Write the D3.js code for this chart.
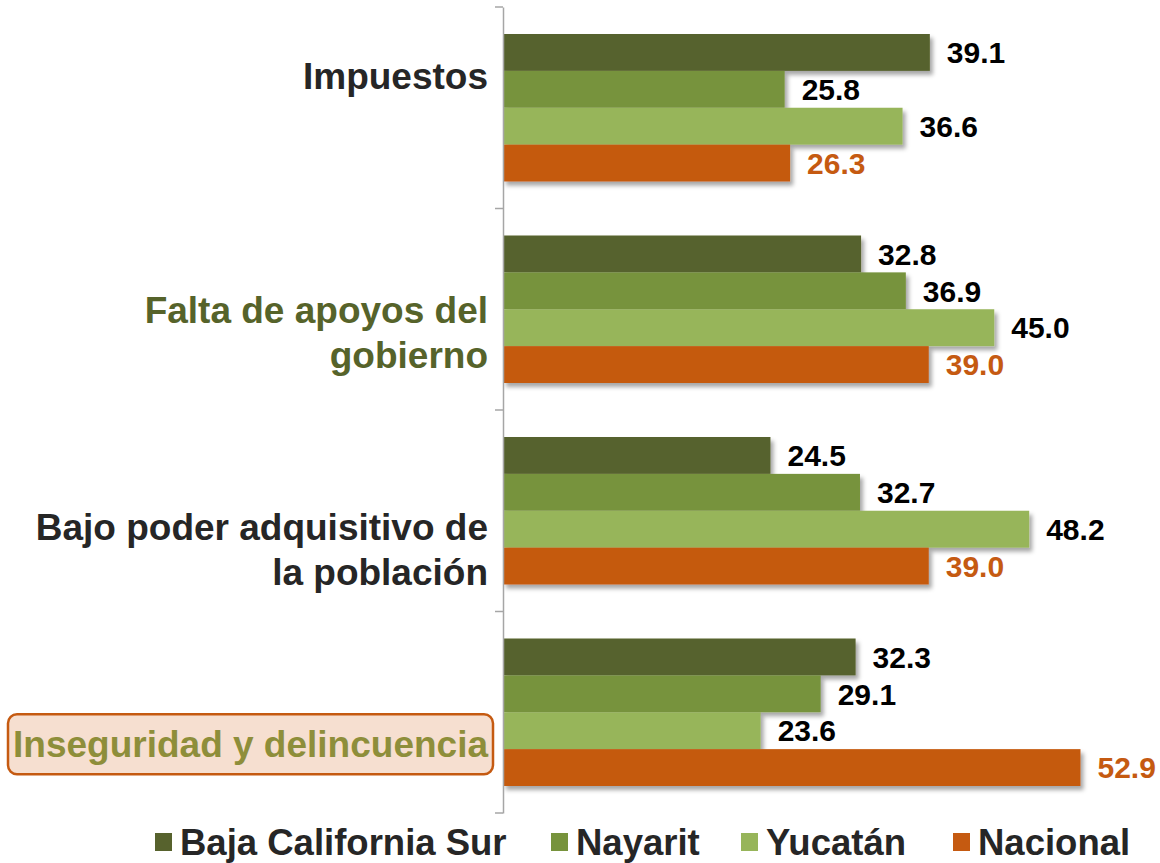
<!DOCTYPE html>
<html>
<head>
<meta charset="utf-8">
<script src="https://cdn.jsdelivr.net/npm/d3@7/dist/d3.min.js"></script>
<style>
  html, body { margin: 0; padding: 0; background: #fff; }
  svg { display: block; font-family: "Liberation Sans", Arial, sans-serif; }
</style>
</head>
<body>
<svg id="chart" width="1160" height="863"></svg>
<script>
// Problem categories (top to bottom) and how each label wraps
const categories = ["Impuestos", "Falta de apoyos del gobierno", "Bajo poder adquisitivo de la población", "Inseguridad y delincuencia"];
const categoryLines = [["Impuestos"], ["Falta de apoyos del", "gobierno"], ["Bajo poder adquisitivo de", "la población"], ["Inseguridad y delincuencia"]];

// Series (percent)
const seriesNames = ["Baja California Sur", "Nayarit", "Yucatán", "Nacional"];
const bajaCaliforniaSur = [39.1, 32.8, 24.5, 32.3];
const nayarit = [25.8, 36.9, 32.7, 29.1];
const yucatan = [36.6, 45.0, 48.2, 23.6];
const nacional = [26.3, 39.0, 39.0, 52.9];

const seriesValues = [bajaCaliforniaSur, nayarit, yucatan, nacional];
const seriesColors = ["#57622d", "#77933c", "#97b55a", "#c55a11"];
const valueLabelColors = ["#000000", "#000000", "#000000", "#c55a11"];

// Category label styling and vertical placement relative to band centre
const labelStyle = {
  "Impuestos": { color: "#262626", dy: -32 },
  "Falta de apoyos del gobierno": { color: "#56632a", dy: 23 },
  "Bajo poder adquisitivo de la población": { color: "#262626", dy: 39 },
  "Inseguridad y delincuencia": { color: "#8e8e3a", dy: 32, boxed: true }
};

const svg = d3.select("#chart");

const defs = svg.append("defs");
const shadow = defs.append("filter").attr("id", "barShadow")
  .attr("x", "-5%").attr("y", "-20%").attr("width", "115%").attr("height", "160%");
shadow.append("feDropShadow")
  .attr("dx", 3).attr("dy", 4).attr("stdDeviation", 2)
  .attr("flood-color", "#000").attr("flood-opacity", 0.35);

const x = d3.scaleLinear().domain([0, 60]).range([503, 1158]);
const y = d3.scaleBand().domain(categories).range([7, 813]);
const ySeries = d3.scaleBand().domain(d3.range(seriesNames.length))
  .range([27, y.bandwidth() - 27]);

// Bars
const rows = [];
categories.forEach((c, ci) => {
  seriesValues.forEach((vals, si) => rows.push({ cat: c, si, v: vals[ci] }));
});

const barG = svg.append("g");
barG.selectAll("rect").data(rows).join("rect")
  .attr("x", x(0))
  .attr("y", d => y(d.cat) + ySeries(d.si))
  .attr("width", d => x(d.v) - x(0))
  .attr("height", ySeries.bandwidth())
  .attr("fill", d => seriesColors[d.si])
  .attr("filter", "url(#barShadow)");

// Value labels
svg.append("g").selectAll("text").data(rows).join("text")
  .attr("x", d => x(d.v) + 17)
  .attr("y", d => y(d.cat) + ySeries(d.si) + ySeries.bandwidth() / 2)
  .attr("dy", "0.36em")
  .attr("font-size", 30)
  .attr("font-weight", "bold")
  .attr("fill", d => valueLabelColors[d.si])
  .text(d => d.v.toFixed(1));

// Category axis
const axis = d3.axisLeft(y).tickValues([]).tickSizeOuter(0);
const axisG = svg.append("g").attr("transform", `translate(${x(0)},0)`).call(axis);
axisG.select(".domain").attr("stroke", "#a6a6a6").attr("stroke-width", 1.5);
const boundaries = categories.map(c => y(c)).concat([y.range()[1]]);
axisG.selectAll("line.bound").data(boundaries).join("line")
  .attr("class", "bound")
  .attr("x1", -8).attr("x2", 0)
  .attr("y1", d => d).attr("y2", d => d)
  .attr("stroke", "#a6a6a6").attr("stroke-width", 1.5);

// Category labels
const lineH = 45;
const labelG = svg.append("g");
categories.forEach((c, ci) => {
  const st = labelStyle[c];
  const lines = categoryLines[ci];
  const cy = y(c) + y.bandwidth() / 2 + st.dy;
  const firstBase = cy - (lines.length - 1) * lineH / 2 + 13;
  if (st.boxed) {
    labelG.append("rect")
      .attr("x", 8).attr("y", cy - 30)
      .attr("width", 485).attr("height", 60)
      .attr("rx", 9)
      .attr("fill", "#f6dfd0")
      .attr("stroke", "#c55a11").attr("stroke-width", 2.5);
  }
  const t = labelG.append("text")
    .attr("text-anchor", "end")
    .attr("font-size", 37)
    .attr("font-weight", "bold")
    .attr("fill", st.color);
  lines.forEach((ln, li) => {
    t.append("tspan").attr("x", 488).attr("y", firstBase + li * lineH).text(ln);
  });
});

// Legend
const legendX = [155, 551, 741, 953];
const legend = svg.append("g");
seriesNames.forEach((name, i) => {
  const g = legend.append("g").attr("transform", `translate(${legendX[i]},0)`);
  g.append("rect").attr("x", 0).attr("y", 833).attr("width", 17).attr("height", 18)
    .attr("fill", seriesColors[i]);
  g.append("text").attr("x", 25).attr("y", 855)
    .attr("font-size", 36.5).attr("font-weight", "bold").attr("fill", "#262626")
    .text(name);
});
</script>
</body>
</html>
